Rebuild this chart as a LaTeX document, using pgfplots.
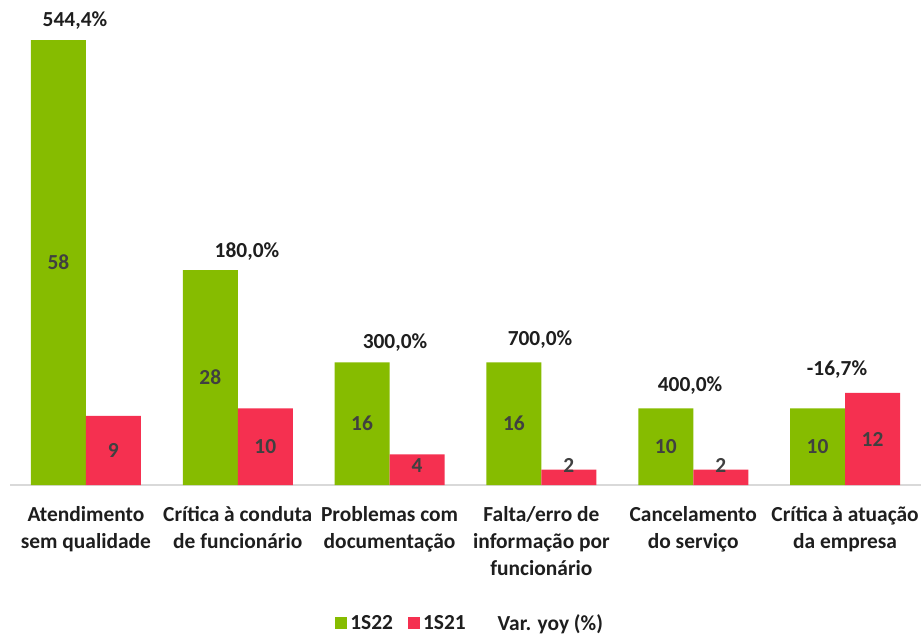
\documentclass[border=0pt]{standalone}
\usepackage{fontspec}
\setmainfont{Carlito}
\usepackage{pgfplots}
\pgfplotsset{compat=1.18}
\definecolor{cgreen}{RGB}{134,188,0}
\definecolor{cred}{RGB}{245,48,80}
\definecolor{labgray}{RGB}{64,64,64}
\definecolor{txt}{RGB}{30,30,30}
\definecolor{axgray}{RGB}{217,217,217}
\newcommand{\lf}{\fontsize{21.5}{27}\selectfont\bfseries}
\begin{document}
\begin{tikzpicture}
\useasboundingbox (0,0) rectangle (922bp,634bp);
\begin{axis}[
  at={(10bp,149bp)}, anchor=south west,
  scale only axis, width=911bp, height=485bp,
  xmin=-0.5, xmax=5.5, ymin=0, ymax=63.23,
  /pgf/number format/assume math mode=true,
  axis x line=bottom, axis y line=none,
  axis line style={-, draw=axgray, line width=1.5pt},
  xtick={0,1,2,3,4,5},
  xticklabels={Atendimento\\sem qualidade, Crítica à conduta\\de funcionário, Problemas com\\documentação, Falta/erro de\\informação por\\funcionário, Cancelamento\\do serviço, Crítica à atuação\\da empresa},
  xtick style={draw=none},
  ytick=\empty,
  xticklabel style={align=center, font=\lf, text=txt, anchor=north, inner sep=0pt, yshift=-19bp},
  clip=false,
  legend columns=3,
  legend style={at={(0.504,-0.2845)}, anchor=center, draw=none, fill=none,
    font=\lf, text=txt,
    nodes={inner sep=0pt},
    /tikz/every even column/.append style={column sep=15bp},
    /tikz/every odd column/.append style={column sep=3bp}},
]
\addplot[ybar, bar width=55bp, bar shift=-27.5bp, fill=cgreen, draw=none,
  nodes near coords,
  visualization depends on={rawy-max(rawy/2,2.6) \as \down},
  every node near coord/.append style={anchor=center, font=\lf, text=labgray,
     xshift=-27.5bp, shift={(axis direction cs:0,-\down)}},
  legend image code/.code={\fill[cgreen] (0bp,-6bp) rectangle (12bp,6bp);}]
  coordinates {(0,58) (1,28) (2,16) (3,16) (4,10) (5,10)};
\addlegendentry{1S22}
\addplot[ybar, bar width=55bp, bar shift=27.5bp, fill=cred, draw=none,
  nodes near coords,
  visualization depends on={rawy-max(rawy/2,2.6) \as \down},
  every node near coord/.append style={anchor=center, font=\lf, text=labgray,
     xshift=27.5bp, shift={(axis direction cs:0,-\down)}},
  legend image code/.code={\fill[cred] (0bp,-6bp) rectangle (12bp,6bp);}]
  coordinates {(0,9) (1,10) (2,4) (3,2) (4,2) (5,12)};
\addlegendentry{1S21}
\addplot[draw=none, mark=none, nodes near coords, point meta=explicit symbolic,
  every node near coord/.append style={anchor=center, font=\lf, text=txt},
  legend image code/.code={\path (0bp,0bp) (14bp,0bp);}]
  coordinates {(-0.072,60.5)[{544,4\%}] (1.061,30.4)[{180,0\%}] (2.036,18.6)[{300,0\%}]
               (2.991,18.9)[{700,0\%}] (3.979,13.0)[{400,0\%}] (4.947,15.0)[{-16,7\%}]};
\addlegendentry{Var. yoy (\%)}
\end{axis}
\end{tikzpicture}
\end{document}
